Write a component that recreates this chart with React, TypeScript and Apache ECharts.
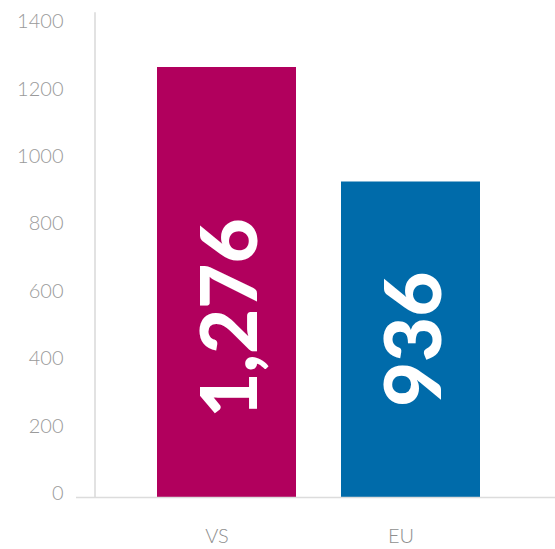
import React, { useEffect, useRef } from "react";
import * as echarts from "echarts";

const categories = ["VS", "EU"];
const values = [1276, 936];
const barColors = ["#B1005D", "#006BAA"];
const labelOffsets = [[-36, 0], [0, 0]];
const yTicks = [0, 200, 400, 600, 800, 1000, 1200, 1400];

export default function App() {
  const ref = useRef<HTMLDivElement>(null);
  useEffect(() => {
    document.body.style.margin = "0";
    const chart = echarts.init(ref.current!, null, { renderer: "svg" });
    chart.setOption({
      animation: false,
      grid: { left: 134.5, right: 52.5, top: 13, bottom: 52 },
      xAxis: {
        type: "category",
        data: categories,
        axisLine: { show: false },
        axisTick: { show: false },
        axisLabel: {
          color: "#8f8f8f",
          fontFamily: "Lato",
          fontWeight: 300,
          fontSize: 20,
          margin: 28,
          padding: [0, 19, 0, 0],
        },
      },
      yAxis: {
        type: "value",
        min: 0,
        max: 1436,
        interval: 200,
        offset: 40,
        splitLine: { show: false },
        axisTick: { show: false },
        axisLine: { show: true, lineStyle: { color: "#e2e2e2", width: 2 } },
        axisLabel: {
          color: "#9a9a9a",
          fontFamily: "Lato",
          fontWeight: 300,
          fontSize: 20,
          margin: 31,
          verticalAlign: "bottom",
          lineHeight: 10,
          showMaxLabel: false,
          formatter: (v: number) => (yTicks.includes(v) ? String(v) : ""),
        },
      },
      graphic: [
        {
          type: "line",
          shape: { x1: 76, y1: 497.5, x2: 555, y2: 497.5 },
          style: { stroke: "#dcdcdc", lineWidth: 1.5 },
          z: 10,
        },
      ],
      series: [
        {
          type: "bar",
          barWidth: 139,
          data: values.map((v, i) => ({
            value: v,
            itemStyle: { color: barColors[i] },
            label: { offset: labelOffsets[i] },
          })),
          label: {
            show: true,
            position: "inside",
            rotate: 90,
            color: "#ffffff",
            fontFamily: "Lato",
            fontWeight: 900,
            fontSize: 78,
            formatter: (p: any) => Number(p.value).toLocaleString("en-US"),
          },
        },
      ],
    });
    return () => chart.dispose();
  }, []);
  return <div ref={ref} style={{ width: 555, height: 549 }} />;
}
